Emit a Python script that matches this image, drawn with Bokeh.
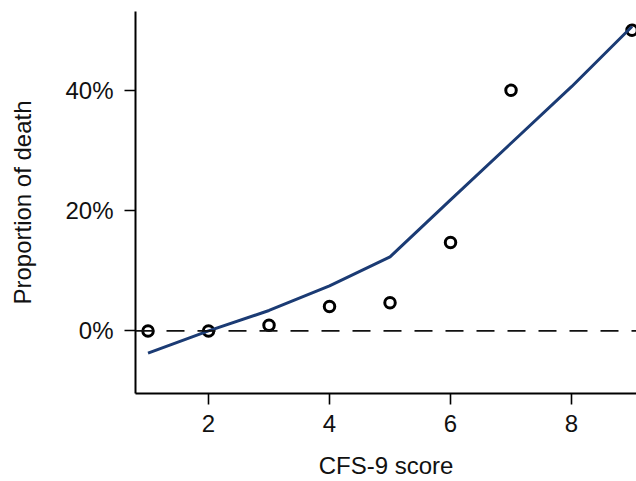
from bokeh.plotting import figure
from bokeh.models import FixedTicker, NumeralTickFormatter, Span, Range1d
from bokeh.embed import file_html
from bokeh.resources import INLINE

# Observed proportions of death by CFS-9 score
obs_score = [1, 2, 3, 4, 5, 6, 7, 9]
obs_prop = [0.0, 0.0, 0.0095, 0.0405, 0.047, 0.147, 0.400, 0.500]

# Fitted (predicted) curve
fit_score = [1, 2, 3, 4, 5, 6, 7, 8, 9]
fit_prop = [-0.037, 0.0, 0.034, 0.075, 0.123, 0.218, 0.312, 0.406, 0.506]

x_ticks = [2, 4, 6, 8]
y_ticks = [0.0, 0.2, 0.4]

FONT = "Liberation Sans"

p = figure(width=636, height=481, output_backend="svg", toolbar_location=None,
           x_range=Range1d(0.793, 9.074), y_range=Range1d(-0.104, 0.531),
           min_border_left=135, min_border_right=0, min_border_top=11, min_border_bottom=88)

p.outline_line_color = None
p.xgrid.grid_line_color = None
p.ygrid.grid_line_color = None
p.background_fill_color = "white"
p.border_fill_color = "white"

zero = Span(location=0, dimension="width", line_color="#111111", line_width=1.8,
            line_dash="18 13")
p.add_layout(zero)

p.scatter(obs_score, obs_prop, marker="circle", size=10.5, fill_color=None,
          line_color="black", line_width=3)
p.line(fit_score, fit_prop, line_color="#1b3b74", line_width=3)

for ax in (p.xaxis[0], p.yaxis[0]):
    ax.axis_line_width = 2
    ax.axis_line_color = "black"
    ax.major_tick_line_width = 1.6
    ax.major_tick_line_color = "black"
    ax.major_tick_in = 0
    ax.major_tick_out = 11
    ax.minor_tick_line_color = None
    ax.major_label_text_font = FONT
    ax.major_label_text_font_size = "24px"
    ax.major_label_text_color = "#111111"
    ax.axis_label_text_font = FONT
    ax.axis_label_text_font_size = "24px"
    ax.axis_label_text_font_style = "normal"
    ax.axis_label_text_color = "#111111"

p.xaxis.ticker = FixedTicker(ticks=x_ticks)
p.yaxis.ticker = FixedTicker(ticks=y_ticks)
p.yaxis.formatter = NumeralTickFormatter(format="0%")
p.xaxis.axis_label = "CFS-9 score"
p.yaxis.axis_label = "Proportion of death"
p.xaxis.major_label_standoff = 10
p.yaxis.major_label_standoff = 11
p.xaxis.axis_label_standoff = 17
p.yaxis.axis_label_standoff = 26

open("out.html", "w").write(file_html(p, INLINE))
